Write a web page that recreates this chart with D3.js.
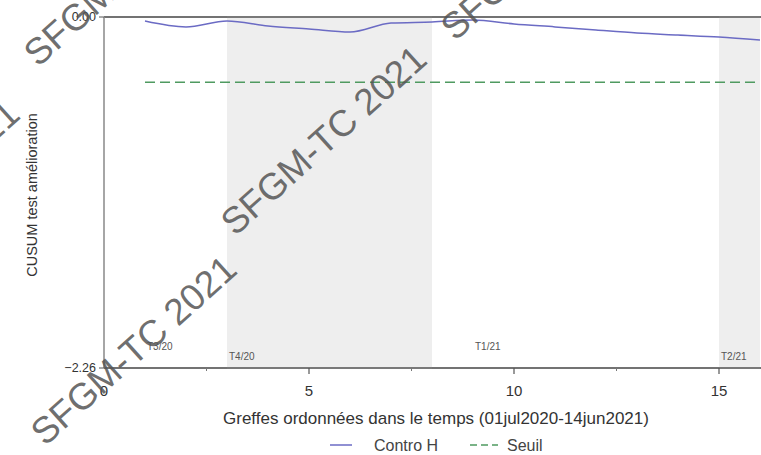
<!DOCTYPE html>
<html>
<head>
<meta charset="utf-8">
<script src="https://cdn.jsdelivr.net/npm/d3@7"></script>
<style>
body{margin:0;padding:0;background:#fff;}
svg text{font-family:"Liberation Sans",Arial,sans-serif;}
</style>
</head>
<body>
<div id="chart"></div>
<script>
// greffes (ordre chronologique) et CUSUM
var greffe = [1,2,3,4,5,6,7,8,9,10,11,12,13,14,15,16];
var controH = [-0.026,-0.064,-0.026,-0.058,-0.077,-0.097,-0.039,-0.032,-0.019,-0.045,-0.064,-0.084,-0.103,-0.116,-0.129,-0.148];
var seuil = -0.42;
// trimestres
var bandEdges = [0,3,8,15,16];
var quarterLabels = ["T3/20","T4/20","T1/21","T2/21"];
var quarterStart = [1,3,9,15];
var yTicks = [0,-2.26];
var xTicks = [0,5,10,15];
var xMinor = [2.5,7.5,12.5];
var watermarks = [[38,68],[455,42],[235,237],[45,447],[-172,292]];

var W = 761, H = 455;
var svg = d3.select("#chart").append("svg").attr("width",W).attr("height",H);

var x = d3.scaleLinear().domain([0,16]).range([104,760]);
var y = d3.scaleLinear().domain([-2.26,0]).range([368,17]);

// cadre
svg.append("line").attr("x1",104).attr("x2",W).attr("y1",y(0)).attr("y2",y(0))
  .attr("stroke","#444").attr("stroke-width",1.5);
svg.append("line").attr("x1",104).attr("x2",W).attr("y1",y(-2.26)).attr("y2",y(-2.26))
  .attr("stroke","#444").attr("stroke-width",1.5);
svg.append("line").attr("x1",x(0)).attr("x2",x(0)).attr("y1",y(0)).attr("y2",y(-2.26))
  .attr("stroke","#888").attr("stroke-width",1.5);

// bandes grises (trimestres pairs)
svg.selectAll("rect.band")
  .data(d3.range(bandEdges.length-1))
  .enter()
  .append("rect")
  .attr("class","band")
  .attr("x",function(i){return x(bandEdges[i]);})
  .attr("width",function(i){return x(bandEdges[i+1])-x(bandEdges[i]);})
  .attr("y",y(0)-1)
  .attr("height",y(-2.26)-y(0)+2)
  .attr("fill","#9a9a9a")
  .attr("fill-opacity",function(i){return i%2==1 ? 0.17 : 0;});

// axe x
svg.selectAll("line.xt").data(xTicks.filter(function(d){return d>0;})).enter().append("line")
  .attr("x1",function(d){return x(d);}).attr("x2",function(d){return x(d);})
  .attr("y1",y(-2.26)).attr("y2",y(-2.26)+6).attr("stroke","#555").attr("stroke-width",1.2);
svg.selectAll("line.xm").data(xMinor).enter().append("line")
  .attr("x1",function(d){return x(d);}).attr("x2",function(d){return x(d);})
  .attr("y1",y(-2.26)).attr("y2",y(-2.26)+3).attr("stroke","#777");
svg.selectAll("text.xl").data(xTicks).enter().append("text")
  .attr("x",function(d){return x(d);}).attr("y",396)
  .attr("text-anchor","middle").attr("font-size","15px").attr("fill","#333")
  .text(function(d){return d;});

// axe y
svg.selectAll("line.yt").data(yTicks).enter().append("line")
  .attr("x1",x(0)-5).attr("x2",x(0)).attr("y1",function(d){return y(d);}).attr("y2",function(d){return y(d);})
  .attr("stroke","#555");
svg.selectAll("text.yl").data(yTicks).enter().append("text")
  .attr("x",x(0)-8).attr("y",function(d){return y(d)+4;})
  .attr("text-anchor","end").attr("font-size","12.5px").attr("fill","#333")
  .text(function(d){return d3.format(".2f")(d);});

// etiquettes trimestres
svg.selectAll("text.q").data(quarterLabels).enter().append("text")
  .attr("x",function(d,i){return x(quarterStart[i])+2;})
  .attr("y",function(d,i){return i%2==0 ? 350 : 360;})
  .attr("font-size","10px").attr("fill","#555")
  .text(function(d){return d;});

// seuil
svg.append("line").attr("x1",x(greffe[0])).attr("x2",x(greffe[greffe.length-1]))
  .attr("y1",y(seuil)).attr("y2",y(seuil))
  .attr("stroke","#4f9a60").attr("stroke-width",1.5).attr("stroke-dasharray","10,5");

// contro H
var line = d3.line().x(function(d,i){return x(greffe[i]);}).y(function(d){return y(d);})
  .curve(d3.curveMonotoneX);
svg.append("path").datum(controH).attr("d",line)
  .attr("fill","none").attr("stroke","#6b6bc4").attr("stroke-width",1.5);

// titres
svg.append("text").attr("x",436).attr("y",424).attr("text-anchor","middle")
  .attr("font-size","17px").attr("fill","#333")
  .text("Greffes ordonnées dans le temps (01jul2020-14jun2021)");
svg.append("text").attr("transform","translate(37,195) rotate(-90)").attr("text-anchor","middle")
  .attr("font-size","14.5px").attr("fill","#333")
  .text("CUSUM test amélioration");

// legende
svg.append("line").attr("x1",330).attr("x2",352).attr("y1",445).attr("y2",445)
  .attr("stroke","#6b6bc4").attr("stroke-width",1.5);
svg.append("text").attr("x",374).attr("y",451).attr("font-size","16px").attr("fill","#444").text("Contro H");
svg.append("line").attr("x1",470).attr("x2",498).attr("y1",445).attr("y2",445)
  .attr("stroke","#4f9a60").attr("stroke-width",1.5).attr("stroke-dasharray","7,4");
svg.append("text").attr("x",507).attr("y",451).attr("font-size","16px").attr("fill","#444").text("Seuil");

// filigrane
svg.selectAll("text.wm").data(watermarks).enter().append("text")
  .attr("transform",function(d){return "translate("+d[0]+","+d[1]+") rotate(-42)";})
  .attr("font-family","DejaVu Sans").attr("font-size","37px").attr("font-weight",200)
  .attr("fill","#555").attr("fill-opacity",0.85)
  .text("SFGM-TC 2021");
</script>
</body>
</html>
